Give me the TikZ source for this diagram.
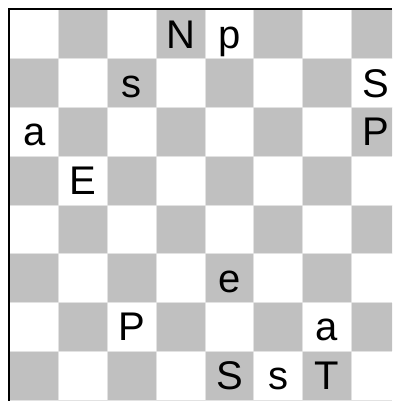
\documentclass[tikz,border=0pt]{standalone}
\usepackage{fontspec}
\setmainfont{Liberation Sans}
\definecolor{boardgray}{HTML}{C0C0C0}
\definecolor{gridgray}{HTML}{E2E2E2}
\begin{document}
\begin{tikzpicture}[x=1pt, y=-1pt,
    square/.style={fill=boardgray},
    gridline/.style={draw=gridgray, line width=1pt},
    edge/.style={draw=black, line width=2pt},
    letter/.style={font=\fontsize{40}{44}\selectfont, inner sep=0pt, anchor=base}]
  \useasboundingbox (0,0) rectangle (392,401);
  \clip (0,0) rectangle (392,401);
  \def\cs{48.75}

  % grey squares
  \foreach \r in {0,...,7} {
    \foreach \c in {0,...,7} {
      \pgfmathtruncatemacro\odd{mod(\r+\c,2)}
      \ifnum\odd=1
        \fill[square] ({10+\c*\cs},{10+\r*\cs}) rectangle ++(\cs,\cs);
      \fi
    }
  }

  % thin lines between squares
  \foreach \k in {1,...,8} {
    \draw[gridline] ({10+\k*\cs},10) -- ({10+\k*\cs},401);
    \draw[gridline] (10,{10+\k*\cs}) -- (392,{10+\k*\cs});
  }

  % outer edge, top and left only
  \draw[edge] (9,401) -- (9,9) -- (392,9);

  % letters (row/column/text), caps centred in the square
  \foreach \r/\c/\t in {1/4/N, 1/5/p, 2/3/s, 2/8/S, 3/1/a, 3/8/P, 4/2/E,
                        6/5/e, 7/3/P, 7/7/a, 8/5/S, 8/6/s, 8/7/T} {
    \node[letter] (l\r\c) at ({10+(\c-0.5)*\cs},{10+(\r-0.5)*\cs+14}) {\t};
  }
\end{tikzpicture}
\end{document}
